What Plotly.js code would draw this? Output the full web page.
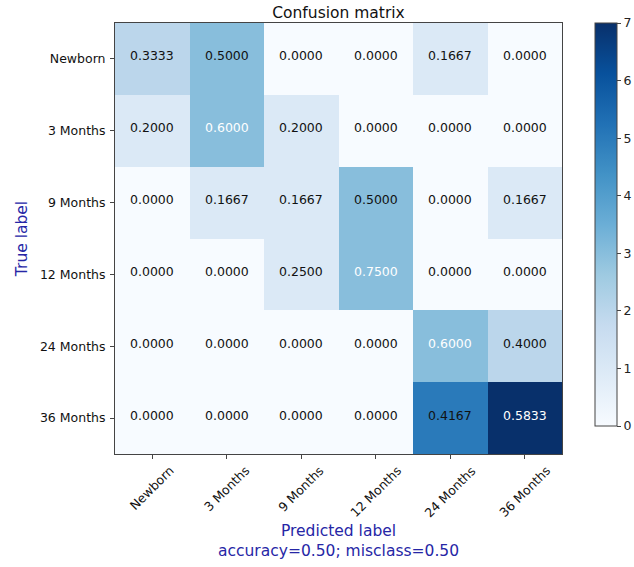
<!DOCTYPE html>
<html>
<head>
<meta charset="utf-8">
<script src="https://cdn.plot.ly/plotly-3.0.1.min.js"></script>
<style>
  html, body { margin: 0; padding: 0; background: #fff; }
  #chart { width: 634px; height: 567px; }
</style>
</head>
<body>
<div id="chart"></div>
<script>
// Class labels (rows = true, columns = predicted)
const classLabels = ["Newborn", "3 Months", "9 Months", "12 Months", "24 Months", "36 Months"];

// Raw prediction counts per true class
const countsNewborn  = [2, 3, 0, 0, 1, 0];
const counts3Months  = [1, 3, 1, 0, 0, 0];
const counts9Months  = [0, 1, 1, 3, 0, 1];
const counts12Months = [0, 0, 1, 3, 0, 0];
const counts24Months = [0, 0, 0, 0, 3, 2];
const counts36Months = [0, 0, 0, 0, 5, 7];

// Row-normalised rates shown in each cell
const rateNewborn  = [0.3333, 0.5000, 0.0000, 0.0000, 0.1667, 0.0000];
const rate3Months  = [0.2000, 0.6000, 0.2000, 0.0000, 0.0000, 0.0000];
const rate9Months  = [0.0000, 0.1667, 0.1667, 0.5000, 0.0000, 0.1667];
const rate12Months = [0.0000, 0.0000, 0.2500, 0.7500, 0.0000, 0.0000];
const rate24Months = [0.0000, 0.0000, 0.0000, 0.0000, 0.6000, 0.4000];
const rate36Months = [0.0000, 0.0000, 0.0000, 0.0000, 0.4167, 0.5833];

const colorbarTicks = [0, 1, 2, 3, 4, 5, 6, 7];
const accuracy = 0.50;
const misclass = 0.50;

const counts = [countsNewborn, counts3Months, counts9Months, counts12Months, counts24Months, counts36Months];
const rates  = [rateNewborn, rate3Months, rate9Months, rate12Months, rate24Months, rate36Months];

// matplotlib "Blues" colormap
const blues = [
  [0.000, "#f7fbff"], [0.125, "#deebf7"], [0.250, "#c6dbef"],
  [0.375, "#9ecae1"], [0.500, "#6baed6"], [0.625, "#4292c6"],
  [0.750, "#2171b5"], [0.875, "#08519c"], [1.000, "#08306b"]
];

const FONT = "DejaVu Sans, sans-serif";
const LABEL_BLUE = "#2626a6";

const heat = {
  type: "heatmap",
  x: classLabels,
  y: classLabels,
  z: counts,
  zmin: 0,
  zmax: 7,
  colorscale: blues,
  xgap: 0, ygap: 0,
  hoverinfo: "skip",
  colorbar: {
    x: (595 - 115) / 447, xanchor: "left", xpad: 0,
    y: 1, yanchor: "top", ypad: 0,
    lenmode: "pixels", len: 403,
    thicknessmode: "pixels", thickness: 22,
    outlinewidth: 1, outlinecolor: "#444",
    tickmode: "array", tickvals: colorbarTicks,
    ticks: "outside", ticklen: 4, tickcolor: "#444",
    tickfont: { family: FONT, size: 12.5, color: "#222" }
  }
};

// Cell values, white text on the darker cells
const thresh = Math.max(...rates.flat()) / 1.5;
const annotations = [];
rates.forEach((row, i) => {
  row.forEach((v, j) => {
    annotations.push({
      x: classLabels[j], y: classLabels[i], xref: "x", yref: "y",
      text: v.toFixed(4), showarrow: false, yshift: 3,
      font: { family: FONT, size: 12.5, color: v > thresh ? "#ffffff" : "#111111" }
    });
  });
});

// Rotated x tick labels, centred under each tick
classLabels.forEach(lbl => {
  annotations.push({
    x: lbl, y: 0, xref: "x", yref: "paper",
    text: lbl, showarrow: false, textangle: -45,
    xanchor: "center", yanchor: "top", yshift: -6,
    font: { family: FONT, size: 12.5, color: "#111" }
  });
});

// x axis label with the accuracy summary
annotations.push({
  x: 0.5, y: 0, xref: "paper", yref: "paper",
  text: "Predicted label<br>accuracy=" + accuracy.toFixed(2) + "; misclass=" + misclass.toFixed(2),
  showarrow: false, xanchor: "center", yanchor: "top", yshift: -66,
  font: { family: FONT, size: 15.5, color: LABEL_BLUE }
});

const layout = {
  width: 634, height: 567,
  margin: { l: 115, r: 72, t: 23, b: 113, pad: 0, autoexpand: false },
  paper_bgcolor: "#ffffff",
  plot_bgcolor: "#ffffff",
  font: { family: FONT, color: "#111" },
  title: {
    text: "Confusion matrix",
    x: 0.5, xref: "paper", xanchor: "center",
    y: 1, yref: "paper", yanchor: "bottom", pad: { b: 5 },
    font: { family: FONT, size: 15.5, color: "#111" }
  },
  xaxis: {
    type: "category",
    showticklabels: false,
    ticks: "outside", ticklen: 4, tickcolor: "#444",
    showline: true, linecolor: "#444", linewidth: 1, mirror: true,
    showgrid: false, zeroline: false, fixedrange: true
  },
  yaxis: {
    type: "category",
    autorange: "reversed",
    ticks: "outside", ticklen: 4, tickcolor: "#444",
    tickfont: { family: FONT, size: 12.5, color: "#111" },
    ticklabelstandoff: 2,
    showline: true, linecolor: "#444", linewidth: 1, mirror: true,
    showgrid: false, zeroline: false, fixedrange: true,
    title: { text: "True label", standoff: 8, font: { family: FONT, size: 15.5, color: LABEL_BLUE } }
  },
  annotations: annotations
};

Plotly.newPlot("chart", [heat], layout, { staticPlot: true, displayModeBar: false });
</script>
</body>
</html>
